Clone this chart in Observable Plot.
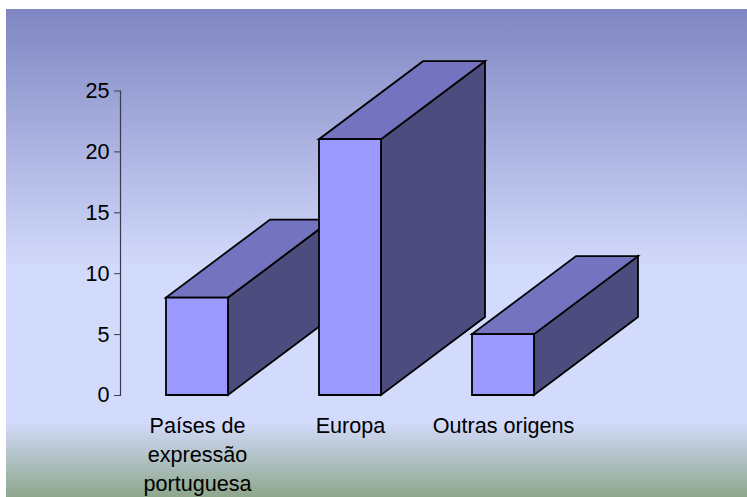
<!DOCTYPE html>
<html>
<head>
<meta charset="utf-8">
<script src="https://cdn.jsdelivr.net/npm/d3@7"></script>
<script src="https://cdn.jsdelivr.net/npm/@observablehq/plot@0.6"></script>
<style>
  html, body { margin: 0; padding: 0; background: #ffffff; overflow: hidden; }
</style>
</head>
<body>
<div id="chart"></div>
<script>
// ---- data ----
const categories = ["Países de expressão portuguesa", "Europa", "Outras origens"];
const tickLabels = ["Países de\nexpressão\nportuguesa", "Europa", "Outras origens"];
const values = [8, 21, 5];
const yTicks = [0, 5, 10, 15, 20, 25];

const data = categories.map((c, i) => ({category: c, value: values[i]}));
const labelOf = new Map(categories.map((c, i) => [c, tickLabels[i]]));

// ---- style constants ----
const DEPTH_DX = 104, DEPTH_DY = -78;
const FRONT = "#9999ff", TOP = "#7373bf", SIDE = "#4c4c7e";

function background(index, scales, values, dimensions, context) {
  const svg = d3.select(context.document.createElementNS("http://www.w3.org/2000/svg", "g"));
  const grad = svg.append("defs").append("linearGradient")
    .attr("id", "bg-grad").attr("x1", 0).attr("y1", 0).attr("x2", 0).attr("y2", 1);
  [[0, "#7f86c2"], [0.535, "#d3dbfc"], [0.845, "#d3dbfc"], [1, "#8ea78c"]]
    .forEach(([o, c]) => grad.append("stop").attr("offset", o).attr("stop-color", c));
  svg.append("rect").attr("x", 6).attr("y", 9)
    .attr("width", dimensions.width - 6).attr("height", dimensions.height - 9)
    .attr("fill", "url(#bg-grad)");
  return svg.node();
}

function bars3d(index, scales, vals, dimensions, context) {
  const g = d3.select(context.document.createElementNS("http://www.w3.org/2000/svg", "g"))
    .attr("stroke", "#000").attr("stroke-width", 1.8).attr("stroke-linejoin", "miter");
  const bw = scales.x.bandwidth();
  for (const i of index) {
    const x0 = vals.x[i], x1 = x0 + bw;
    const yb = Math.max(vals.y1[i], vals.y2[i]);
    const yt = Math.min(vals.y1[i], vals.y2[i]);
    const p = pts => pts.map(d => d.join(",")).join(" ");
    g.append("polygon").attr("fill", SIDE).attr("points", p([
      [x1, yt], [x1 + DEPTH_DX, yt + DEPTH_DY], [x1 + DEPTH_DX, yb + DEPTH_DY], [x1, yb]
    ]));
    g.append("polygon").attr("fill", TOP).attr("points", p([
      [x0, yt], [x1, yt], [x1 + DEPTH_DX, yt + DEPTH_DY], [x0 + DEPTH_DX, yt + DEPTH_DY]
    ]));
    g.append("polygon").attr("fill", FRONT).attr("points", p([
      [x0, yb], [x0, yt], [x1, yt], [x1, yb]
    ]));
  }
  return g.node();
}

const chart = Plot.plot({
  width: 747,
  height: 497,
  marginLeft: 120,
  marginRight: 100,
  marginTop: 90.5,
  marginBottom: 102,
  style: {fontFamily: "'Liberation Sans', Arial, sans-serif", fontSize: "21.6px", color: "#000", background: "#fff", overflow: "visible"},
  x: {type: "band", domain: categories, range: [75, 625], padding: 0.5948, round: false},
  y: {domain: [0, 25]},
  marks: [
    background,
    Plot.frame({anchor: "left", stroke: "#3a3a50", strokeWidth: 1.2}),
    Plot.barY(data, {x: "category", y: "value", render: bars3d}),
    Plot.axisY({ticks: yTicks, tickSize: 6, tickPadding: 5, fontSize: 21.6, stroke: "#3a3a50", label: null}),
    Plot.axisX({tickSize: 0, tickPadding: 16.5, fontSize: 21.6, lineHeight: 1.35, tickFormat: d => labelOf.get(d), label: null})
  ]
});
document.getElementById("chart").appendChild(chart);
</script>
</body>
</html>
